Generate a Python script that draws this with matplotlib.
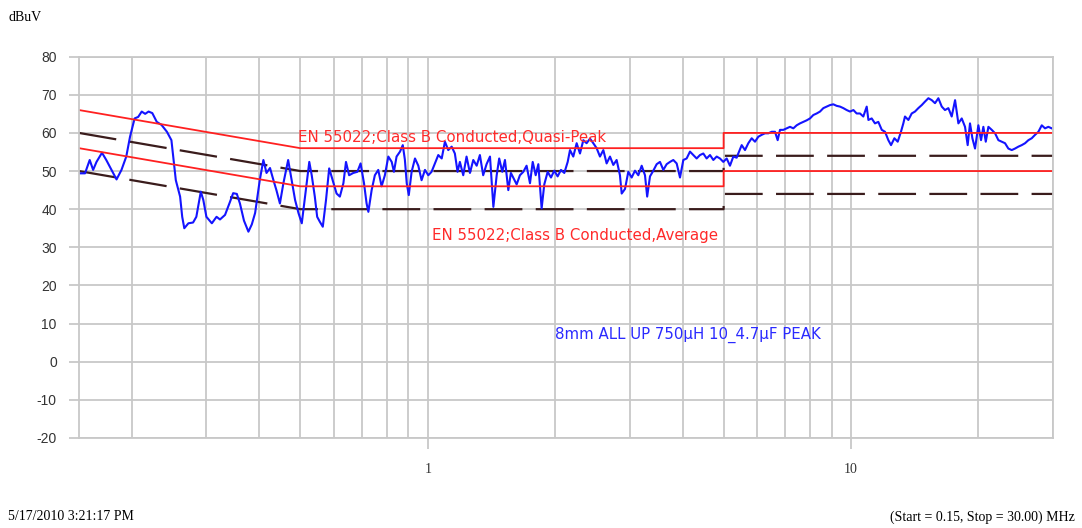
import matplotlib
matplotlib.use("Agg")
import matplotlib.pyplot as plt
from matplotlib.ticker import LogLocator, FixedLocator, NullFormatter

plt.rcParams['axes.unicode_minus'] = False

# measured trace (MHz, dBuV)
freq = [0.151, 0.155, 0.159, 0.162, 0.165, 0.170, 0.174, 0.179, 0.184, 0.189,
        0.194, 0.198, 0.203, 0.207, 0.211, 0.215, 0.219, 0.2235, 0.229, 0.235,
        0.242, 0.248, 0.251, 0.254, 0.260, 0.263, 0.266, 0.272, 0.279, 0.284,
        0.291, 0.295, 0.300, 0.309, 0.317, 0.323, 0.332, 0.341, 0.347, 0.354,
        0.360, 0.368, 0.377, 0.384, 0.391, 0.401, 0.409, 0.416, 0.424, 0.432,
        0.439, 0.4475, 0.456, 0.468, 0.477, 0.486, 0.495, 0.504, 0.513, 0.525,
        0.532, 0.541, 0.548, 0.556, 0.565, 0.575, 0.585, 0.596, 0.609, 0.620,
        0.632, 0.641, 0.652, 0.667, 0.682, 0.694, 0.707, 0.717, 0.724, 0.737,
        0.750, 0.764, 0.778, 0.792, 0.807, 0.822, 0.832, 0.844, 0.860, 0.873,
        0.883, 0.892, 0.902, 0.916, 0.933, 0.950, 0.967, 0.985, 1.003, 1.021,
        1.040, 1.059, 1.079, 1.098, 1.118, 1.139, 1.159, 1.176, 1.191, 1.213,
        1.235, 1.258, 1.281, 1.305, 1.328, 1.352, 1.377, 1.403, 1.429, 1.455,
        1.475, 1.500, 1.522, 1.550, 1.572, 1.592, 1.622, 1.651, 1.682, 1.712,
        1.744, 1.770, 1.799, 1.825, 1.858, 1.885, 1.920, 1.955, 1.990, 2.027,
        2.064, 2.102, 2.141, 2.168, 2.207, 2.248, 2.289, 2.331, 2.373, 2.417,
        2.461, 2.506, 2.552, 2.599, 2.646, 2.695, 2.744, 2.794, 2.845, 2.872,
        2.924, 2.977, 3.032, 3.087, 3.144, 3.202, 3.260, 3.299, 3.350, 3.411,
        3.474, 3.537, 3.602, 3.668, 3.735, 3.803, 3.873, 3.944, 4.016, 4.089,
        4.164, 4.240, 4.318, 4.397, 4.477, 4.559, 4.643, 4.728, 4.815, 4.902,
        4.992, 5.084, 5.176, 5.271, 5.368, 5.415, 5.517, 5.617, 5.719, 5.825,
        5.931, 6.039, 6.151, 6.262, 6.377, 6.495, 6.613, 6.709, 6.795, 6.919,
        7.046, 7.175, 7.306, 7.440, 7.576, 7.714, 7.856, 7.999, 8.146, 8.295,
        8.447, 8.601, 8.759, 8.919, 9.082, 9.249, 9.418, 9.590, 9.766, 9.944,
        10.13, 10.31, 10.50, 10.69, 10.89, 10.99, 11.19, 11.39, 11.60, 11.82,
        12.03, 12.25, 12.43, 12.66, 12.89, 13.12, 13.29, 13.41, 13.66, 13.91,
        14.16, 14.42, 14.69, 14.95, 15.23, 15.51, 15.79, 16.08, 16.38, 16.67,
        16.98, 17.29, 17.61, 17.93, 18.26, 18.59, 18.86, 19.10, 19.35, 19.63,
        19.99, 20.28, 20.54, 20.81, 21.11, 21.50, 21.89, 22.29, 22.70, 23.11,
        23.53, 23.97, 24.40, 24.85, 25.31, 25.77, 26.24, 26.72, 27.21, 27.71,
        28.22, 28.73, 29.25, 29.79]
level = [49.4, 49.4, 52.9, 50.3, 52.4, 54.8, 52.9, 50.3, 47.8, 50.3,
         53.8, 59.0, 63.8, 64.2, 65.6, 65.0, 65.6, 65.2, 62.9, 62.1,
         60.3, 58.1, 52.9, 47.6, 43.3, 38.0, 35.0, 36.3, 36.5, 38.0,
         44.6, 42.4, 38.0, 36.3, 38.0, 37.3, 38.5, 41.9, 44.2, 44.0,
         41.5, 37.0, 34.1, 36.0, 39.0, 47.6, 52.9, 49.5, 50.8, 47.6,
         45.0, 41.5, 46.8, 52.9, 47.6, 42.4, 39.0, 36.3, 43.3, 52.4,
         48.9, 43.3, 38.0, 36.7, 35.4, 42.4, 50.7, 47.6, 44.1, 43.3,
         46.8, 52.4, 48.9, 49.5, 49.8, 52.0, 46.8, 41.5, 39.3, 45.0,
         48.9, 50.3, 46.0, 48.9, 53.8, 52.4, 49.8, 53.8, 55.1, 56.8,
         53.0, 46.8, 43.7, 49.8, 53.3, 51.4, 47.6, 50.3, 48.9, 49.8,
         52.0, 54.2, 53.3, 57.7, 55.5, 56.4, 54.6, 49.8, 52.4, 48.9,
         53.8, 49.5, 52.9, 51.4, 54.2, 48.9, 51.8, 53.8, 40.6, 48.9,
         53.3, 49.8, 52.9, 45.0, 49.5, 48.3, 46.5, 48.9, 49.8, 51.4,
         46.8, 52.4, 48.9, 51.8, 40.2, 46.5, 49.8, 48.3, 50.1, 48.6,
         50.3, 49.5, 52.4, 55.5, 53.8, 57.3, 54.6, 58.1, 57.3, 58.5,
         57.3, 56.0, 53.8, 55.5, 52.0, 53.8, 51.6, 52.9, 48.9, 44.1,
         45.3, 49.8, 48.3, 50.1, 48.9, 51.4, 48.9, 43.3, 48.6, 50.1,
         51.8, 52.4, 50.3, 51.8, 52.4, 52.9, 52.0, 48.3, 52.9, 53.3,
         55.1, 54.2, 53.3, 54.2, 54.6, 53.3, 54.2, 52.9, 53.8, 53.3,
         52.4, 53.3, 51.4, 53.8, 53.5, 54.6, 56.8, 55.5, 57.3, 58.6,
         57.7, 59.0, 59.5, 59.9, 59.9, 60.3, 60.3, 58.1, 60.8, 60.8,
         61.2, 61.6, 61.2, 62.0, 62.5, 62.9, 63.3, 63.8, 64.7, 65.1,
         65.6, 66.5, 66.9, 67.3, 67.5, 67.1, 66.9, 66.5, 66.0, 65.6,
         66.0, 65.1, 65.1, 64.3, 66.9, 63.4, 63.8, 62.5, 62.9, 60.8,
         60.3, 58.1, 56.8, 58.6, 57.7, 60.3, 62.5, 64.3, 63.4, 65.1,
         65.6, 66.5, 67.3, 68.2, 69.1, 68.6, 67.8, 69.1, 66.9, 66.0,
         66.5, 64.3, 68.6, 62.5, 63.8, 61.6, 56.8, 62.5, 58.6, 55.9,
         62.0, 58.1, 61.6, 57.7, 61.6, 60.8, 59.9, 58.1, 57.7, 57.3,
         55.9, 55.5, 55.9, 56.4, 56.8, 57.3, 58.1, 58.6, 59.5, 60.3,
         62.0, 61.2, 61.6, 61.2]

# EN 55022 class B limits
lim_freq = [0.15, 0.5, 5, 5, 30]
qp_limit = [66, 56, 56, 60, 60]
avg_limit = [56, 46, 46, 50, 50]
qp_margin = [60, 50, 50, 54, 54]
avg_margin = [50, 40, 40, 44, 44]

yticks = list(range(-20, 81, 10))

fig = plt.figure(figsize=(10.82, 5.28), dpi=100)
ax = fig.add_axes([0.073, 0.1705, 0.9002, 0.7222])

grid_c = '#c8c8c8'
ax.set_xscale('log')
ax.set_xlim(0.15, 30)
ax.set_ylim(-20, 80)
ax.xaxis.set_major_locator(FixedLocator([1, 10]))
ax.xaxis.set_minor_locator(LogLocator(base=10, subs=range(2, 10)))
ax.xaxis.set_minor_formatter(NullFormatter())
ax.set_xticklabels(['1', '10'], family='Liberation Serif', fontsize=10)
ax.set_yticks(yticks)
ax.grid(True, which='both', color=grid_c, lw=1.3)
ax.set_axisbelow(True)
for s in ax.spines.values():
    s.set_color(grid_c)
    s.set_linewidth(1.3)
ax.tick_params(axis='y', colors=grid_c, length=7, width=1.3, pad=9, labelcolor='#333333', labelsize=10)
ax.tick_params(axis='x', which='major', colors=grid_c, length=8, width=1.3, pad=10, labelcolor='#333333')
ax.tick_params(axis='x', which='minor', length=0)
for t in ax.get_yticklabels():
    t.set_family('Liberation Sans')

dash = (0, (17, 6))
ax.plot(lim_freq, qp_margin, color='#3a1c1c', lw=1.6, linestyle=dash)
ax.plot(lim_freq, avg_margin, color='#3a1c1c', lw=1.6, linestyle=dash)
ax.plot(freq, level, color='#1414ff', lw=1.5)
ax.plot(lim_freq, qp_limit, color='#ff2020', lw=1.3)
ax.plot(lim_freq, avg_limit, color='#ff2020', lw=1.3)

lab = dict(fontsize=10.8, family='DejaVu Sans', va='center', ha='left')
ax.text(0.494, 58.7, 'EN 55022;Class B Conducted,Quasi-Peak', color='#ff2a2a', **lab)
ax.text(1.023, 33.2, 'EN 55022;Class B Conducted,Average', color='#ff2a2a', **lab)
ax.text(2.0, 7.0, '8mm ALL UP 750\u00b5H 10_4.7\u00b5F PEAK', color='#2a2aff', **lab)

fig.text(0.0074, 0.966, 'dBuV', family='Liberation Serif', fontsize=10, va='center')
fig.text(0.0074, 0.021, '5/17/2010 3:21:17 PM', family='Liberation Serif', fontsize=10, va='center')
fig.text(0.9935, 0.021, '(Start = 0.15, Stop = 30.00) MHz', family='Liberation Serif',
         fontsize=10, va='center', ha='right')

fig.savefig('out.png', dpi=100)
